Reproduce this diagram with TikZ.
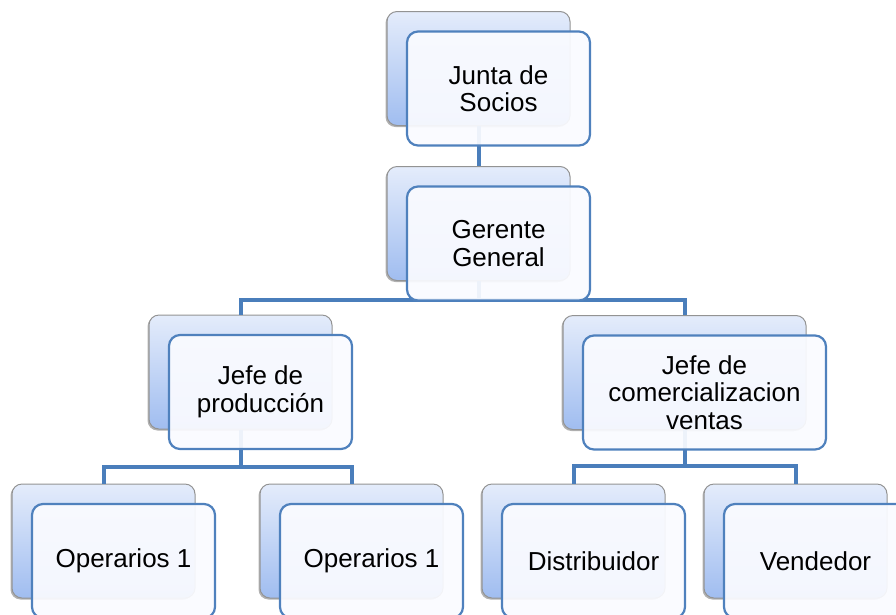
\documentclass[tikz,border=0pt]{standalone}
\usepackage{fontspec}
\setmainfont{Liberation Sans}
\usetikzlibrary{calc,shadows}
\definecolor{linkblue}{RGB}{74,126,187}
\definecolor{boxblue}{RGB}{79,129,189}
\definecolor{backtop}{RGB}{228,236,251}
\definecolor{backbot}{RGB}{160,189,240}
\definecolor{frontfill}{RGB}{250,251,255}

\begin{document}
\begin{tikzpicture}[x=1pt,y=-1pt,
   back/.style={draw=gray!85, line width=1pt, rounded corners=10pt,
      top color=backtop, bottom color=backbot,
      minimum width=183pt, minimum height=114pt,
      general shadow={fill=black, opacity=.3, shadow xshift=-1.5pt, shadow yshift=-1.5pt}},
   front/.style={draw=boxblue, line width=2.2pt, rounded corners=11pt,
      fill=frontfill, fill opacity=.93, text opacity=1,
      minimum width=183pt, minimum height=114pt, align=center,
      font=\fontsize{26}{27.5}\selectfont},
   link/.style={draw=linkblue, line width=4pt}]

\useasboundingbox (0,0) rectangle (896,614);

% back boxes
\node[back] (junta-b) at (478.5,68.5) {};
\node[back] (gerente-b) at (478.5,223.5) {};
\node[back] (prod-b) at (240.5,372) {};
\node[back, minimum width=243pt] (comer-b) at (684.5,372.5) {};
\node[back] (op1-b) at (103.5,541) {};
\node[back] (op2-b) at (351.5,541) {};
\node[back] (dist-b) at (573.5,541) {};
\node[back] (vend-b) at (795.5,541) {};

% connectors
\draw[link] (junta-b.south) -- (gerente-b.north);
\draw[link] (gerente-b.south) -- ++(0,19) -| (prod-b.north);
\draw[link] (gerente-b.south) -- ++(0,19) -| (comer-b.north);
\draw[link] (prod-b.south) -- ++(0,37) -| (op1-b.north);
\draw[link] (prod-b.south) -- ++(0,37) -| (op2-b.north);
\draw[link] (comer-b.south) -- ++(0,36) -| (dist-b.north);
\draw[link] (comer-b.south) -- ++(0,36) -| (vend-b.north);

% front boxes
\node[front] (junta) at ([shift={(20,20)}]junta-b.center) {Junta de\\Socios};
\node[front] (gerente) at ([shift={(20,20)}]gerente-b.center) {Gerente\\General};
\node[front] (prod) at ([shift={(20,20)}]prod-b.center) {Jefe de\\producción};
\node[front, minimum width=243pt] (comer) at ([shift={(20,20)}]comer-b.center) {Jefe de\\comercializacion\\ventas};
\node[front] (op1) at ([shift={(20,20)}]op1-b.center) {Operarios 1};
\node[front] (op2) at ([shift={(20,20)}]op2-b.center) {Operarios 1};
\node[front] (dist) at ([shift={(20,20)}]dist-b.center) {Distribuidor};
\node[front] (vend) at ([shift={(20,20)}]vend-b.center) {Vendedor};

\end{tikzpicture}
\end{document}
